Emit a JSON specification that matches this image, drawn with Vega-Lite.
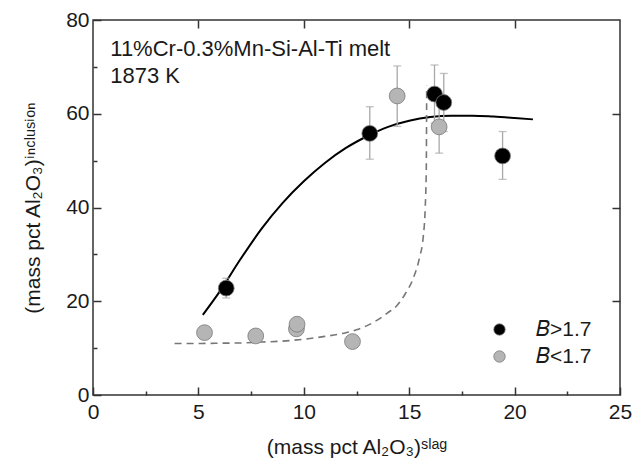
{
  "$schema": "https://vega.github.io/schema/vega-lite/v6.json",
  "width": 527,
  "height": 375,
  "autosize": "none",
  "padding": {"left": 93, "top": 20, "right": 22, "bottom": 75},
  "config": {
    "font": "Liberation Sans",
    "view": {"stroke": "#333333", "strokeWidth": 1.5},
    "axis": {"grid": false, "domain": false, "labelFlush": false, "labelOverlap": false, "tickColor": "#333333", "tickWidth": 1.5, "labelColor": "#1a1a1a", "titleColor": "#1a1a1a", "labelFontSize": 21, "titleFontSize": 21, "titleFontWeight": "normal"}
  },
  "datasets": {
    "points": [
      {"x": 6.32, "y": 22.8, "group": "B>1.7"},
      {"x": 13.13, "y": 55.8, "group": "B>1.7"},
      {"x": 16.2, "y": 64.2, "group": "B>1.7"},
      {"x": 16.64, "y": 62.4, "group": "B>1.7"},
      {"x": 19.43, "y": 51.0, "group": "B>1.7"},
      {"x": 5.29, "y": 13.3, "group": "B<1.7"},
      {"x": 7.72, "y": 12.6, "group": "B<1.7"},
      {"x": 9.65, "y": 14.1, "group": "B<1.7"},
      {"x": 9.68, "y": 15.1, "group": "B<1.7"},
      {"x": 12.31, "y": 11.4, "group": "B<1.7"},
      {"x": 14.43, "y": 63.8, "group": "B<1.7"},
      {"x": 16.42, "y": 57.2, "group": "B<1.7"}
    ],
    "errors": [
      {"x": 6.32, "lo": 20.7, "hi": 24.9},
      {"x": 13.13, "lo": 50.3, "hi": 61.5},
      {"x": 16.2, "lo": 58.0, "hi": 70.4},
      {"x": 16.64, "lo": 56.2, "hi": 68.6},
      {"x": 19.43, "lo": 46.0, "hi": 56.2},
      {"x": 14.43, "lo": 57.3, "hi": 70.2},
      {"x": 16.42, "lo": 51.6, "hi": 63.0}
    ],
    "solid": [
      {"x": 5.21, "y": 17.1}, {"x": 6, "y": 22.0}, {"x": 7, "y": 29.0}, {"x": 8, "y": 35.5},
      {"x": 9, "y": 41.0}, {"x": 10, "y": 45.6}, {"x": 11, "y": 49.5}, {"x": 12, "y": 52.7},
      {"x": 13, "y": 55.2}, {"x": 14, "y": 57.2}, {"x": 15, "y": 58.5}, {"x": 16, "y": 59.3},
      {"x": 17, "y": 59.6}, {"x": 18, "y": 59.6}, {"x": 19, "y": 59.4}, {"x": 20, "y": 59.1},
      {"x": 20.87, "y": 58.8}
    ],
    "dashed": [
      {"x": 3.87, "y": 11.0}, {"x": 5, "y": 11.0}, {"x": 6, "y": 11.05}, {"x": 7, "y": 11.1},
      {"x": 8, "y": 11.3}, {"x": 9, "y": 11.5}, {"x": 10, "y": 11.9}, {"x": 11, "y": 12.5},
      {"x": 12, "y": 13.3}, {"x": 12.5, "y": 13.9}, {"x": 13, "y": 14.8}, {"x": 13.6, "y": 16.3},
      {"x": 14, "y": 17.6}, {"x": 14.4, "y": 19.0}, {"x": 14.8, "y": 21.5}, {"x": 15.2, "y": 25.0},
      {"x": 15.5, "y": 29.5}, {"x": 15.66, "y": 33.5}, {"x": 15.76, "y": 40.0}, {"x": 15.81, "y": 48.0},
      {"x": 15.83, "y": 66.0}
    ],
    "notes": [
      {"x": 0.82, "y": 72.3, "label": "11%Cr-0.3%Mn-Si-Al-Ti melt"},
      {"x": 0.82, "y": 66.6, "label": "1873 K"}
    ]
  },
  "resolve": {"axis": {"x": "independent", "y": "independent"}},
  "layer": [
    {
      "data": {"name": "solid"},
      "mark": {"type": "line", "color": "#000000", "strokeWidth": 2, "interpolate": "monotone"},
      "encoding": {
        "x": {"field": "x", "type": "quantitative", "scale": {"domain": [0, 25], "nice": false},
              "axis": {"orient": "top", "values": [5, 10, 15, 20], "labels": false, "title": null, "tickSize": -8}},
        "y": {"field": "y", "type": "quantitative", "scale": {"domain": [0, 80], "nice": false},
              "axis": {"orient": "right", "values": [20, 40, 60], "labels": false, "title": null, "tickSize": -8}}
      }
    },
    {
      "data": {"name": "dashed"},
      "mark": {"type": "line", "color": "#777777", "strokeWidth": 1.6, "strokeDash": [7, 5], "interpolate": "monotone"},
      "encoding": {
        "x": {"field": "x", "type": "quantitative", "scale": {"domain": [0, 25], "nice": false}, "axis": null},
        "y": {"field": "y", "type": "quantitative", "scale": {"domain": [0, 80], "nice": false}, "axis": null}
      }
    },
    {
      "data": {"name": "errors"},
      "mark": {"type": "rule", "color": "#a8a8a8", "strokeWidth": 1.3},
      "encoding": {
        "x": {"field": "x", "type": "quantitative", "scale": {"domain": [0, 25], "nice": false},
              "axis": {"orient": "bottom", "values": [2.5, 7.5, 12.5, 17.5, 22.5], "labels": false, "title": null, "tickSize": -4}},
        "y": {"field": "lo", "type": "quantitative", "scale": {"domain": [0, 80], "nice": false},
              "axis": {"orient": "left", "values": [10, 30, 50, 70], "labels": false, "title": null, "tickSize": -4}},
        "y2": {"field": "hi"}
      }
    },
    {
      "data": {"name": "errors"},
      "mark": {"type": "tick", "color": "#a8a8a8", "orient": "horizontal", "size": 8, "thickness": 1.3},
      "encoding": {
        "x": {"field": "x", "type": "quantitative", "scale": {"domain": [0, 25], "nice": false}, "axis": null},
        "y": {"field": "lo", "type": "quantitative", "scale": {"domain": [0, 80], "nice": false}, "axis": null}
      }
    },
    {
      "data": {"name": "errors"},
      "mark": {"type": "tick", "color": "#a8a8a8", "orient": "horizontal", "size": 8, "thickness": 1.3},
      "encoding": {
        "x": {"field": "x", "type": "quantitative", "scale": {"domain": [0, 25], "nice": false}, "axis": null},
        "y": {"field": "hi", "type": "quantitative", "scale": {"domain": [0, 80], "nice": false}, "axis": null}
      }
    },
    {
      "data": {"name": "points"},
      "mark": {"type": "circle", "size": 250, "opacity": 1, "stroke": "#7a7a7a", "strokeWidth": 0.8},
      "encoding": {
        "x": {"field": "x", "type": "quantitative", "scale": {"domain": [0, 25], "nice": false},
              "axis": {"orient": "bottom", "values": [0, 5, 10, 15, 20, 25], "tickSize": -8, "labelPadding": 14, "title": "(mass pct Al₂O₃)ˢˡᵃᵍ", "titlePadding": 14}},
        "y": {"field": "y", "type": "quantitative", "scale": {"domain": [0, 80], "nice": false},
              "axis": {"orient": "left", "values": [0, 20, 40, 60, 80], "tickSize": -8, "labelPadding": 12, "title": "(mass pct Al₂O₃)ⁱⁿᶜˡᵘˢⁱᵒⁿ", "titlePadding": 22}},
        "color": {"field": "group", "type": "nominal",
                  "scale": {"domain": ["B>1.7", "B<1.7"], "range": ["#000000", "#b5b5b5"]},
                  "legend": {"title": null, "orient": "bottom-right", "offset": 28, "padding": 0, "symbolType": "circle", "symbolSize": 130, "symbolStrokeColor": "#7a7a7a", "symbolStrokeWidth": 0.8, "labelFontSize": 21, "labelColor": "#1a1a1a", "labelOffset": 26, "rowPadding": 5, "labelExpr": "replace(datum.label, 'B', '𝐵')"}}
      }
    },
    {
      "data": {"name": "notes"},
      "mark": {"type": "text", "align": "left", "baseline": "alphabetic", "fontSize": 22, "color": "#1a1a1a"},
      "encoding": {
        "x": {"field": "x", "type": "quantitative", "scale": {"domain": [0, 25], "nice": false}, "axis": null},
        "y": {"field": "y", "type": "quantitative", "scale": {"domain": [0, 80], "nice": false}, "axis": null},
        "text": {"field": "label"}
      }
    }
  ]
}
